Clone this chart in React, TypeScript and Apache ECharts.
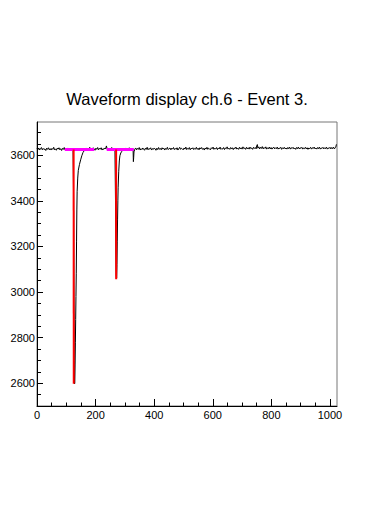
import React, { useEffect, useRef } from "react";
import * as echarts from "echarts";

const titleText = "Waveform display ch.6 - Event 3.";

const xMajorTicks = [0, 200, 400, 600, 800, 1000];
const xMinorTicks = [50, 100, 150, 250, 300, 350, 450, 500, 550, 650, 700, 750, 850, 900, 950];
const yMajorTicks = [2600, 2800, 3000, 3200, 3400, 3600];
const yMinorTicks = [2550, 2650, 2700, 2750, 2850, 2900, 2950, 3050, 3100, 3150, 3250, 3300, 3350, 3450, 3500, 3550, 3650, 3700];

const xRange = [0, 1024];
const yRange = [2500, 3746];

// waveform samples [sample, ADC]
const waveform: [number, number][] = [
  [0, 3631], [3, 3625], [6, 3632], [9, 3623], [12, 3629], [15, 3634], [18, 3624], [21, 3630], [24, 3625], [27, 3628],
  [30, 3621], [33, 3631], [36, 3626], [39, 3633], [42, 3624], [45, 3629], [48, 3623], [51, 3630], [54, 3626], [57, 3635],
  [60, 3624], [63, 3628], [66, 3622], [69, 3631], [72, 3627], [75, 3633], [78, 3624], [81, 3629], [84, 3621], [87, 3630],
  [90, 3626], [93, 3634], [96, 3623], [99, 3629], [102, 3625], [105, 3632], [108, 3627], [111, 3622], [114, 3630],
  [117, 3625], [120, 3631], [123, 3627], [124, 3628],
  [125, 3400], [126, 3000], [127, 2700], [128, 2597], [129, 2600], [130, 2680], [131, 2780], [132, 2880], [133, 2980],
  [134, 3080], [135, 3220], [136, 3360], [137, 3440], [139, 3500], [141, 3534], [145, 3560], [149, 3580], [153, 3598],
  [157, 3612], [161, 3620], [165, 3626],
  [168, 3632], [171, 3624], [174, 3630], [177, 3626], [180, 3635], [183, 3623], [186, 3629], [189, 3625], [192, 3633],
  [195, 3627], [198, 3622], [201, 3631], [204, 3626], [207, 3634], [210, 3624], [213, 3630], [216, 3627], [219, 3633],
  [222, 3623], [225, 3629], [228, 3626], [231, 3632], [234, 3628], [237, 3641], [240, 3625], [243, 3631], [246, 3623],
  [249, 3630], [252, 3626], [255, 3634], [258, 3624], [261, 3629], [264, 3627], [266, 3630],
  [268, 3400], [269, 3180], [270, 3075], [271, 3058], [272, 3062], [273, 3120], [274, 3220], [275, 3320], [276, 3400],
  [277, 3460], [279, 3530], [281, 3575], [283, 3598], [286, 3610], [290, 3618], [294, 3624], [297, 3631], [300, 3625],
  [303, 3632], [306, 3624], [309, 3630], [312, 3626], [315, 3633], [318, 3623], [321, 3629], [324, 3627], [327, 3631],
  [328, 3624], [329, 3572], [330, 3590], [331, 3615], [334, 3627], [337, 3632],
  [340, 3624], [343, 3630], [346, 3626], [349, 3634], [352, 3623], [355, 3629], [358, 3625], [361, 3632], [364, 3627],
  [367, 3622], [370, 3631], [373, 3626], [376, 3635], [379, 3624], [382, 3630], [385, 3627], [388, 3633], [391, 3623],
  [394, 3629], [397, 3626], [400, 3632], [403, 3628], [406, 3622], [409, 3631], [412, 3625], [415, 3634], [418, 3626],
  [421, 3630], [424, 3624], [427, 3633], [430, 3627], [433, 3631], [436, 3623], [439, 3630], [442, 3626], [445, 3635],
  [448, 3625], [451, 3629], [454, 3632], [457, 3624], [460, 3631], [463, 3627], [466, 3634], [469, 3625], [472, 3630],
  [475, 3626], [478, 3633], [481, 3623], [484, 3629], [487, 3635], [490, 3626], [493, 3631], [496, 3628], [499, 3624],
  [502, 3632], [505, 3627], [508, 3636], [511, 3625], [514, 3630], [517, 3627], [520, 3634], [523, 3624], [526, 3631],
  [529, 3628], [532, 3633], [535, 3625], [538, 3630], [541, 3627], [544, 3635], [547, 3626], [550, 3631], [553, 3624],
  [556, 3633], [559, 3628], [562, 3634], [565, 3626], [568, 3630], [571, 3623], [574, 3632], [577, 3627], [580, 3635],
  [583, 3626], [586, 3631], [589, 3628], [592, 3624], [595, 3633], [598, 3629], [601, 3636], [604, 3626], [607, 3631],
  [610, 3627], [613, 3634], [616, 3625], [619, 3632], [622, 3628], [625, 3636], [628, 3626], [631, 3630], [634, 3627],
  [637, 3634], [640, 3625], [643, 3632], [646, 3629], [649, 3637], [652, 3627], [655, 3631], [658, 3626], [661, 3634],
  [664, 3628], [667, 3633], [670, 3625], [673, 3632], [676, 3629], [679, 3636], [682, 3627], [685, 3631], [688, 3626],
  [691, 3635], [694, 3628], [697, 3633], [700, 3627], [703, 3637], [706, 3629], [709, 3632], [712, 3626], [715, 3635],
  [718, 3628], [721, 3633], [724, 3627], [727, 3636], [730, 3629], [733, 3632], [736, 3626], [739, 3635], [742, 3630],
  [745, 3634], [748, 3628], [750, 3642], [752, 3647], [754, 3631], [757, 3637], [760, 3628], [763, 3635], [766, 3630],
  [769, 3638], [772, 3628], [775, 3634], [778, 3630], [781, 3637], [784, 3627], [787, 3633], [790, 3629], [793, 3636],
  [796, 3628], [799, 3634], [802, 3627], [805, 3632], [808, 3636], [811, 3628], [814, 3633], [817, 3629], [820, 3636],
  [823, 3627], [826, 3632], [829, 3630], [832, 3635], [835, 3626], [838, 3633], [841, 3629], [844, 3635], [847, 3628],
  [850, 3632], [853, 3627], [856, 3634], [859, 3629], [862, 3636], [865, 3627], [868, 3633], [871, 3630], [874, 3635],
  [877, 3628], [880, 3632], [883, 3626], [886, 3634], [889, 3629], [892, 3636], [895, 3628], [898, 3633], [901, 3630],
  [904, 3635], [907, 3627], [910, 3632], [913, 3629], [916, 3635], [919, 3628], [922, 3633], [925, 3626], [928, 3632],
  [931, 3629], [934, 3635], [937, 3627], [940, 3633], [943, 3630], [946, 3636], [949, 3628], [952, 3632], [955, 3627],
  [958, 3634], [961, 3629], [964, 3636], [967, 3627], [970, 3632], [973, 3630], [976, 3635], [979, 3628], [982, 3633],
  [985, 3629], [988, 3636], [991, 3627], [994, 3632], [997, 3630], [1000, 3635], [1003, 3628], [1006, 3634], [1009, 3629],
  [1012, 3636], [1015, 3628], [1018, 3633], [1020, 3636], [1022, 3648], [1023, 3646],
];

// baseline fit segments (magenta)
const baseline1: [number, number][] = [[95, 3625], [195, 3625]];
const baseline2: [number, number][] = [[238, 3625], [330, 3625]];
// pulse leading-edge fits (red)
const pulseFit1: [number, number][] = [[125, 3625], [125.5, 2598]];
const pulseFit2: [number, number][] = [[270, 3625], [270.3, 3056]];

const FONT = "'Liberation Sans', Arial, Helvetica, sans-serif";

export default function App() {
  const ref = useRef<HTMLDivElement>(null);
  useEffect(() => {
    if (!ref.current) return;
    const chart = echarts.init(ref.current, undefined, { renderer: "svg" });
    const lineSeries = (data: [number, number][], color: string, width: number, z: number) => ({
      type: "line",
      data,
      showSymbol: false,
      symbol: "none",
      xAxisIndex: 0,
      yAxisIndex: 0,
      z,
      lineStyle: { color, width },
      emphasis: { disabled: true },
    });
    const plain = (v: number) => String(v);
    chart.setOption({
      animation: false,
      backgroundColor: "#fff",
      title: {
        text: titleText,
        left: "center",
        top: 90,
        padding: 0,
        textStyle: { fontSize: 16.5, fontWeight: "normal", color: "#000", fontFamily: FONT },
      },
      grid: {
        left: 37,
        right: 37,
        top: 122,
        bottom: 123,
        show: true,
        borderColor: "#777",
        borderWidth: 1,
        backgroundColor: "transparent",
      },
      xAxis: [
        {
          type: "value",
          min: xRange[0],
          max: xRange[1],
          position: "bottom",
          axisLine: { show: true, onZero: false, lineStyle: { color: "#000", width: 1 } },
          axisTick: { show: true, inside: true, length: 7, customValues: xMajorTicks, lineStyle: { color: "#000" } },
          axisLabel: { show: true, customValues: xMajorTicks, formatter: plain, fontSize: 11, color: "#000", margin: 3, fontFamily: FONT },
          splitLine: { show: false },
        },
        {
          type: "value",
          min: xRange[0],
          max: xRange[1],
          position: "bottom",
          axisLine: { show: false },
          axisTick: { show: true, inside: true, length: 3.5, customValues: xMinorTicks, lineStyle: { color: "#000" } },
          axisLabel: { show: false },
          splitLine: { show: false },
        },
      ],
      yAxis: [
        {
          type: "value",
          min: yRange[0],
          max: yRange[1],
          position: "left",
          axisLine: { show: true, onZero: false, lineStyle: { color: "#000", width: 1 } },
          axisTick: { show: true, inside: true, length: 6, customValues: yMajorTicks, lineStyle: { color: "#000" } },
          axisLabel: { show: true, customValues: yMajorTicks, formatter: plain, fontSize: 11, color: "#000", margin: 2, fontFamily: FONT },
          splitLine: { show: false },
        },
        {
          type: "value",
          min: yRange[0],
          max: yRange[1],
          position: "left",
          axisLine: { show: false },
          axisTick: { show: true, inside: true, length: 4, customValues: yMinorTicks, lineStyle: { color: "#000" } },
          axisLabel: { show: false },
          splitLine: { show: false },
        },
      ],
      series: [
        lineSeries(waveform, "#000", 1, 2),
        lineSeries(baseline1, "#ff00ff", 3, 3),
        lineSeries(baseline2, "#ff00ff", 3, 3),
        lineSeries(pulseFit1, "#ff0000", 2, 4),
        lineSeries(pulseFit2, "#ff0000", 2, 4),
      ],
    });
    return () => chart.dispose();
  }, []);
  return (
    <div
      ref={ref}
      style={{ position: "fixed", left: 0, top: 0, width: 374, height: 529, background: "#fff" }}
    />
  );
}
